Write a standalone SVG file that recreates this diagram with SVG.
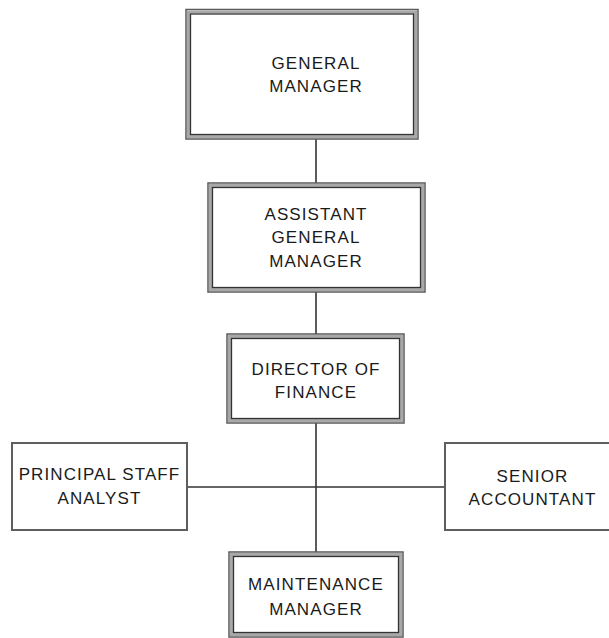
<svg xmlns="http://www.w3.org/2000/svg" width="609" height="638" viewBox="0 0 609 638">
<style>
.o{fill:#fff;stroke:#5a5a5a;stroke-width:1.5}
.b{fill:none;stroke:#a8a8a8;stroke-width:3}
.i{fill:none;stroke:#333;stroke-width:1.3}
.s{fill:#fff;stroke:#5e5e5e;stroke-width:2}
.t{font-family:"Liberation Sans",Arial,sans-serif;font-size:17px;letter-spacing:1.1px;fill:#1a1a1a;text-anchor:middle}
.c{stroke:#333;stroke-width:1.6;fill:none}
</style>
<rect width="609" height="638" fill="#fff"/>
<g id="connectors">
<line class="c" x1="316" y1="139" x2="316" y2="183"/>
<line class="c" x1="316" y1="292" x2="316" y2="334"/>
<line class="c" x1="316" y1="423" x2="316" y2="552"/>
<line class="c" x1="187" y1="487" x2="445" y2="487"/>
</g>
<g id="general-manager">
<rect class="o" x="186" y="9.5" width="232" height="129.5"/>
<rect class="b" x="188.5" y="12" width="227" height="124.5"/>
<rect class="i" x="190.5" y="14" width="223" height="120.5"/>
<text class="t" x="316" y="69">GENERAL</text>
<text class="t" x="316" y="91.5">MANAGER</text>
</g>
<g id="assistant-general-manager">
<rect class="o" x="208" y="183" width="217" height="109"/>
<rect class="b" x="210.5" y="185.5" width="212" height="104"/>
<rect class="i" x="212.5" y="187.5" width="208" height="100"/>
<text class="t" x="316" y="220">ASSISTANT</text>
<text class="t" x="316" y="243">GENERAL</text>
<text class="t" x="316" y="266.5">MANAGER</text>
</g>
<g id="director-of-finance">
<rect class="o" x="227" y="334" width="177" height="89"/>
<rect class="b" x="229.5" y="336.5" width="172" height="84"/>
<rect class="i" x="231.5" y="338.5" width="168" height="80"/>
<text class="t" x="316" y="375">DIRECTOR OF</text>
<text class="t" x="316" y="397.5">FINANCE</text>
</g>
<g id="principal-staff-analyst">
<rect class="s" x="12" y="443" width="175" height="87"/>
<text class="t" x="99.5" y="480">PRINCIPAL STAFF</text>
<text class="t" x="99.5" y="504">ANALYST</text>
</g>
<g id="senior-accountant">
<rect class="s" x="445" y="443" width="175" height="87"/>
<text class="t" x="532.5" y="481.5">SENIOR</text>
<text class="t" x="532.5" y="505">ACCOUNTANT</text>
</g>
<g id="maintenance-manager">
<rect class="o" x="229" y="552" width="174" height="85"/>
<rect class="b" x="231.5" y="554.5" width="169" height="80"/>
<rect class="i" x="233.5" y="556.5" width="165" height="76"/>
<text class="t" x="316" y="590">MAINTENANCE</text>
<text class="t" x="316" y="615">MANAGER</text>
</g>
</svg>
